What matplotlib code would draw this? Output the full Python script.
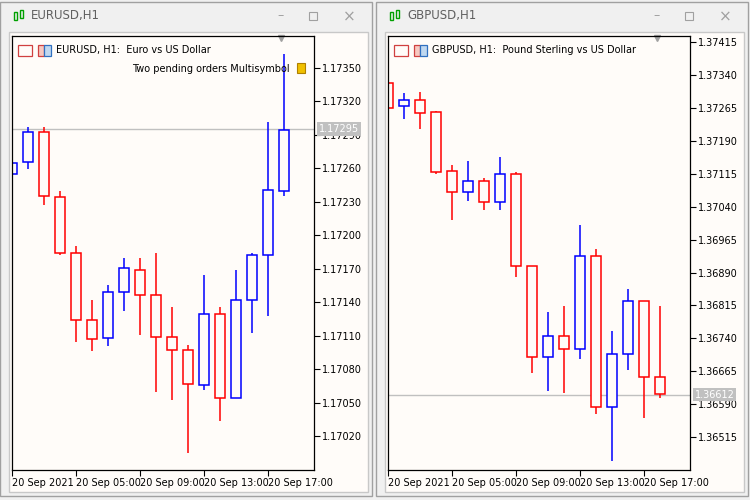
import matplotlib
matplotlib.use("Agg")
import matplotlib.pyplot as plt
from matplotlib.patches import Rectangle

# ---- data ----
eur_open  = [1.17255,1.17266,1.17293,1.17234,1.17184,1.17124,1.17108,1.17149,1.17169,1.17146,1.17109,1.17097,1.17066,1.17129,1.17054,1.17142,1.17182,1.17240]
eur_high  = [1.17266,1.17297,1.17297,1.17240,1.17190,1.17142,1.17155,1.17180,1.17180,1.17184,1.17136,1.17102,1.17164,1.17136,1.17169,1.17184,1.17302,1.17363]
eur_low   = [1.17254,1.17259,1.17227,1.17182,1.17104,1.17096,1.17101,1.17132,1.17111,1.17059,1.17052,1.17005,1.17061,1.17033,1.17054,1.17112,1.17128,1.17235]
eur_close = [1.17265,1.17293,1.17235,1.17184,1.17124,1.17107,1.17149,1.17171,1.17146,1.17109,1.17097,1.17067,1.17129,1.17054,1.17142,1.17182,1.17241,1.17294]
eur_last = 1.17295
eur_ticks = [1.17020,1.17050,1.17080,1.17110,1.17140,1.17170,1.17200,1.17230,1.17260,1.17290,1.17320,1.17350]

gbp_open  = [1.37322,1.37269,1.37283,1.37256,1.37121,1.37073,1.37098,1.37051,1.37114,1.36905,1.36697,1.36745,1.36716,1.36928,1.36584,1.36704,1.36825,1.36652]
gbp_high  = [1.37322,1.37299,1.37301,1.37258,1.37135,1.37144,1.37105,1.37153,1.37119,1.36905,1.36800,1.36814,1.36998,1.36944,1.36757,1.36852,1.36825,1.36814]
gbp_low   = [1.37265,1.37240,1.37217,1.37114,1.37010,1.37053,1.37032,1.37032,1.36880,1.36661,1.36620,1.36615,1.36693,1.36568,1.36461,1.36668,1.36559,1.36604]
gbp_close = [1.37265,1.37283,1.37253,1.37119,1.37073,1.37098,1.37051,1.37114,1.36905,1.36697,1.36745,1.36716,1.36928,1.36584,1.36704,1.36825,1.36652,1.36613]
gbp_last = 1.36612
gbp_ticks = [1.36515,1.36590,1.36665,1.36740,1.36815,1.36890,1.36965,1.37040,1.37115,1.37190,1.37265,1.37340,1.37415]

time_tick_idx = [0, 4, 8, 12, 16]
time_labels = ["20 Sep 2021", "20 Sep 05:00", "20 Sep 09:00", "20 Sep 13:00", "20 Sep 17:00"]

W, H = 750, 500
fig = plt.figure(figsize=(7.5, 5), dpi=100)
fig.patch.set_facecolor("#f0f0f0")

def fr(x, y, w, h):
    return (x / W, 1 - (y + h) / H, w / W, h / H)

def prect(x, y, w, h, **kw):
    r = Rectangle((x / W, 1 - (y + h) / H), w / W, h / H, transform=fig.transFigure, zorder=-5, **kw)
    fig.patches.append(r)

def ptext(x, y, s, **kw):
    fig.text(x / W, 1 - y / H, s, **kw)

def window(x0, title, sub, o, h, l, c, last, ticks, ylim, extra=None):
    prect(x0, 2, 372, 494, facecolor="#f0f0f0", edgecolor="#a0a0a0", lw=1)
    prect(x0 + 14, 12, 3, 8, facecolor="none", edgecolor="#00a000", lw=1)
    prect(x0 + 20, 10, 3, 8, facecolor="none", edgecolor="#00a000", lw=1)
    ptext(x0 + 31, 16, title, fontsize=8.5, color="#606060", va="center")
    ptext(x0 + 277, 16, "\u2013", fontsize=9, color="#a0a0a0", va="center")
    prect(x0 + 309, 12, 8, 8, facecolor="none", edgecolor="#a0a0a0", lw=0.8)
    ptext(x0 + 349, 17, "\u00d7", fontsize=11, color="#a0a0a0", va="center", ha="center")
    prect(x0 + 9, 32, 359, 460, facecolor="#fffcf9", edgecolor="#c8c8c8", lw=1)
    ax = fig.add_axes(fr(x0 + 12, 36, 302, 434))
    ax.set_facecolor("#fffcf9")
    ax.set_xlim(0, 302 / 16)
    ax.set_ylim(*ylim)
    n = len(o)
    for i in range(n):
        col = "blue" if c[i] >= o[i] else "red"
        bot, top = min(o[i], c[i]), max(o[i], c[i])
        ax.vlines(i, top, h[i], color=col, lw=1.1)
        ax.vlines(i, l[i], bot, color=col, lw=1.1)
        ax.add_patch(Rectangle((i - 0.31, bot), 0.62, max(top - bot, 1e-6),
                               facecolor="#fffcf9", edgecolor=col, lw=1.1))
    ax.axhline(last, color="#c0c0c0", lw=1, zorder=0.5)
    ax.yaxis.tick_right()
    ax.set_yticks(ticks)
    ax.set_yticklabels([f"{t:.5f}" for t in ticks])
    ax.set_xticks(time_tick_idx)
    ax.set_xticklabels(time_labels, ha="left")
    ax.tick_params(axis="both", labelsize=7, length=4, width=0.8, pad=2, colors="black")
    for s in ax.spines.values():
        s.set_color("black"); s.set_linewidth(0.9)
    ax.text(1.015, last, f"{last:.5f}", transform=ax.get_yaxis_transform(),
            fontsize=7, color="white", va="center", ha="left", zorder=10,
            bbox=dict(boxstyle="square,pad=0.2", facecolor="#c0c0c0", edgecolor="none"))
    ax.add_patch(Rectangle((0.02, 0.955), 0.045, 0.025, transform=ax.transAxes,
                           facecolor="none", edgecolor="#d04040", lw=0.9))
    ax.add_patch(Rectangle((0.085, 0.955), 0.022, 0.025, transform=ax.transAxes,
                           facecolor="#f8c8c0", edgecolor="#d04040", lw=0.9))
    ax.add_patch(Rectangle((0.107, 0.955), 0.022, 0.025, transform=ax.transAxes,
                           facecolor="#c0d8f0", edgecolor="#3070c0", lw=0.9))
    ax.text(0.145, 0.967, sub, transform=ax.transAxes, fontsize=7, va="center")
    ax.plot([0.89], [0.995], marker="v", color="#a0a0a0", ms=5, transform=ax.transAxes, clip_on=False)
    if extra:
        ax.text(0.92, 0.925, extra, transform=ax.transAxes, fontsize=7, va="center", ha="right")
        ax.add_patch(Rectangle((0.945, 0.915), 0.025, 0.022, transform=ax.transAxes,
                               facecolor="#f0c000", edgecolor="#b08000", lw=0.8))
    return ax

window(0, "EURUSD,H1", "EURUSD, H1:  Euro vs US Dollar", eur_open, eur_high, eur_low, eur_close,
       eur_last, eur_ticks, (1.169895, 1.173787), extra="Two pending orders Multisymbol")
window(376, "GBPUSD,H1", "GBPUSD, H1:  Pound Sterling vs US Dollar", gbp_open, gbp_high, gbp_low, gbp_close,
       gbp_last, gbp_ticks, (1.36440, 1.37429))

fig.savefig("out.png", dpi=100, facecolor=fig.get_facecolor())
